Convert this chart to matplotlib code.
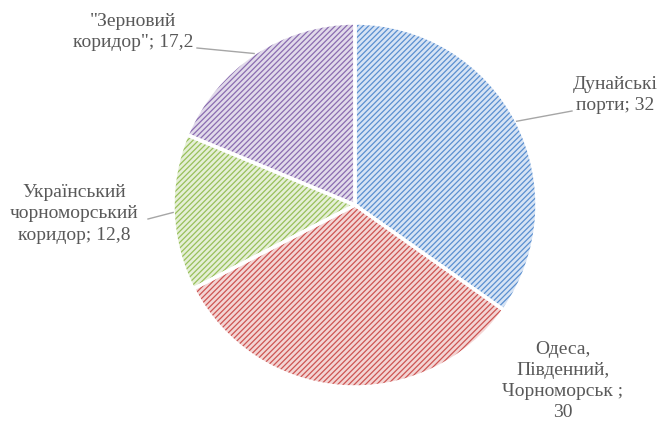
import numpy as np
import matplotlib

matplotlib.use("Agg")

import matplotlib.pyplot as plt

plt.rcParams["font.family"] = ["Liberation Serif", "DejaVu Serif"]
plt.rcParams["hatch.linewidth"] = 0.9

labels = ["Дунайські\nпорти; 32", "Одеса,\nПівденний,\nЧорноморськ ;\n30",
          "Український\nчорноморський\nкоридор; 12,8", "\"Зерновий\nкоридор\"; 17,2"]
values = [32, 30, 12.8, 17.2]
hatch_colors = ["#5a8fd0", "#cd5552", "#98c05a", "#8a6cb0"]
fill_colors = ["#d6e3f4", "#f3d5d4", "#e5efd6", "#e1daea"]

# label placement in pixels (center of text block), and leader line ends
label_px = [(615, 95), (563, 381), (74, 214), (133, 32)]
leader_end_px = [(572, 111), None, (148, 219), (197, 48)]

CX, CY, R = 355, 205, 182
W, H = 660, 423


def px(x, y):
    return (x - CX) / R, (CY - y) / R


fig = plt.figure(figsize=(6.6, 4.23), dpi=100)
ax = fig.add_axes([0, 0, 1, 1])

wedges, _ = ax.pie(values, startangle=90, counterclock=False, radius=1,
                   colors=fill_colors, wedgeprops=dict(linewidth=0))
for w, hc in zip(wedges, hatch_colors):
    w.set_hatch("//////")
    w.set_edgecolor(hc)
    w.set_linewidth(0)

ax.pie(values, startangle=90, counterclock=False, radius=1,
       wedgeprops=dict(facecolor="none", edgecolor="white", linewidth=2.5))

for w, lab, pos, end in zip(wedges, labels, label_px, leader_end_px):
    ang = np.deg2rad((w.theta1 + w.theta2) / 2)
    if end is not None:
        ex, ey = px(*end)
        ax.plot([np.cos(ang), ex], [np.sin(ang), ey], color="#a6a6a6", linewidth=1)
    tx, ty = px(*pos)
    ax.text(tx, ty, lab, ha="center", va="center", fontsize=14,
            color="#595959", linespacing=1.32)

ax.set_xlim(-CX / R, (W - CX) / R)
ax.set_ylim((CY - H) / R, CY / R)
ax.set_aspect("equal")
ax.axis("off")

fig.savefig("out.png", dpi=100)
